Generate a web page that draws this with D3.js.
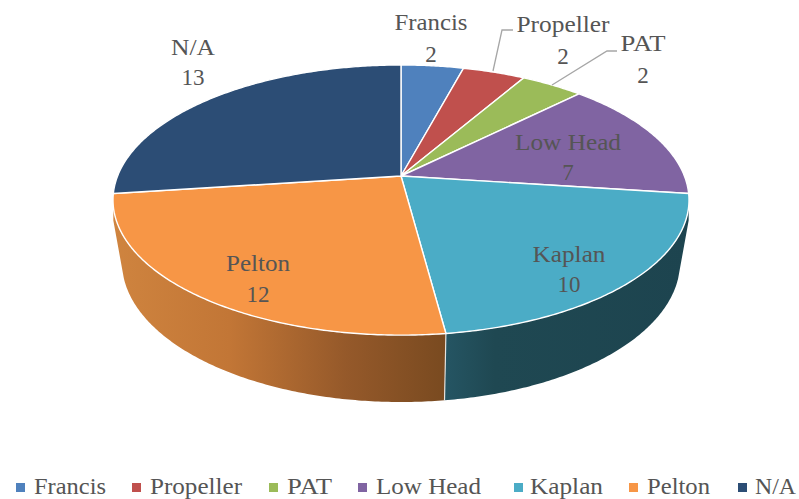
<!DOCTYPE html>
<html><head><meta charset="utf-8">
<script src="https://cdn.jsdelivr.net/npm/d3@7/dist/d3.min.js"></script>
<style>html,body{margin:0;background:#fff}svg{display:block}text{font-family:"Liberation Serif",serif;fill:#555}</style>
</head><body><svg id="c" width="799" height="499"></svg>
<script>
const categories = ["Francis","Propeller","PAT","Low Head","Kaplan","Pelton","N/A"];
const values = [2,2,2,7,10,12,13];
const colors = ["#4f81bd","#c0504d","#9bbb59","#8064a2","#4bacc6","#f79646","#2c4d75"];
const labelPos = [[431,22,431,54],[563,24,563,56],[643,43,643,75],[568,142,568,172],[569,254,569,284],[258,263,258,294],[193,47,193,77]];
const labelWidths = [73,93,45,106,73,64,44];
const legendX = [[16,34],[132,150],[269,287],[358,376],[514,530],[629,647],[738,755]];
const legendWidths = [72,92,45,105,73,63,41];

const svg = d3.select("#c");
const defs = svg.append("defs");
const cx=401, cy=176, R=283.4, S=130.8, k=0.178, depth=61, sx=0.969, sy=1.037, corner=27, ringMinY=277;
function proj(a, lower){
  const u=Math.sin(a), v=Math.cos(a), w=1+k*v;
  return lower ? [cx+sx*R*u/w, cy+depth-sy*S*v/w] : [cx+R*u/w, cy-S*v/w];
}
const pie=d3.pie().sort(null).value(d=>d);
const arcs=pie(values);
const line=d3.line();
function samples(a0,a1){const n=Math.max(2,Math.ceil(Math.abs(a1-a0)/0.01));return d3.range(n+1).map(i=>a0+(a1-a0)*i/n);}
function grad(id,x1,x2,stops){
  const g=defs.append("linearGradient").attr("id",id).attr("gradientUnits","userSpaceOnUse").attr("x1",x1).attr("x2",x2).attr("y1",0).attr("y2",0);
  stops.forEach(s=>g.append("stop").attr("offset",s[0]).attr("stop-color",s[1]));
}
grad("gOrange",113,446,[[0,"#cf843f"],[0.35,"#c27636"],[0.7,"#95592a"],[1,"#794a20"]]);
grad("gTeal",446,689,[[0,"#255563"],[0.2,"#1f4852"],[1,"#1d444f"]]);

[[4,"gTeal",0],[5,"gOrange",1]].forEach(([i,g,cornerEnd])=>{
  const a0=arcs[i].startAngle,a1=arcs[i].endAngle;
  const top=samples(a0,a1).map(a=>proj(a,false));
  const bot=samples(a0,a1).reverse().map(a=>proj(a,true)).filter(p=>p[1]>=ringMinY);
  const edge=proj(cornerEnd?a1:a0,false);
  const c=[edge[0],edge[1]+corner];
  const pts=cornerEnd?top.concat([c],bot):top.concat(bot,[c]);
  svg.append("path").attr("d",line(pts)+"Z").attr("fill",`url(#${g})`);
});
const seamA=arcs[4].endAngle;
svg.append("path").attr("d",line([proj(seamA,false),proj(seamA,true)])).attr("stroke","#fff").attr("stroke-width",1.2).attr("opacity",.8).attr("fill","none");

svg.selectAll("path.top").data(arcs).join("path").attr("class","top")
  .attr("d",d=>line([[cx,cy]].concat(samples(d.startAngle,d.endAngle).map(a=>proj(a,false))))+"Z")
  .attr("fill",(d,i)=>colors[i]).attr("stroke","#fff").attr("stroke-width",1.4).attr("stroke-linejoin","round");

svg.append("path").attr("d","M493,71 L502,30 L513,30").attr("fill","none").attr("stroke","#a6a6a6").attr("stroke-width",1.3);
svg.append("path").attr("d","M552,85 L607,51 L617,51").attr("fill","none").attr("stroke","#a6a6a6").attr("stroke-width",1.3);

categories.forEach((c,i)=>{
  const p=labelPos[i];
  svg.append("text").attr("x",p[0]).attr("y",p[1]+8).attr("text-anchor","middle").attr("font-size",23).attr("textLength",labelWidths[i]).attr("lengthAdjust","spacingAndGlyphs").text(c);
  svg.append("text").attr("x",p[2]).attr("y",p[3]+8).attr("text-anchor","middle").attr("font-size",23).text(values[i]);
});

categories.forEach((c,i)=>{
  const l=legendX[i];
  svg.append("rect").attr("x",l[0]).attr("y",483).attr("width",9).attr("height",9).attr("fill",colors[i]);
  svg.append("text").attr("x",l[1]).attr("y",494).attr("font-size",23).attr("textLength",legendWidths[i]).attr("lengthAdjust","spacingAndGlyphs").text(c);
});
</script></body></html>
